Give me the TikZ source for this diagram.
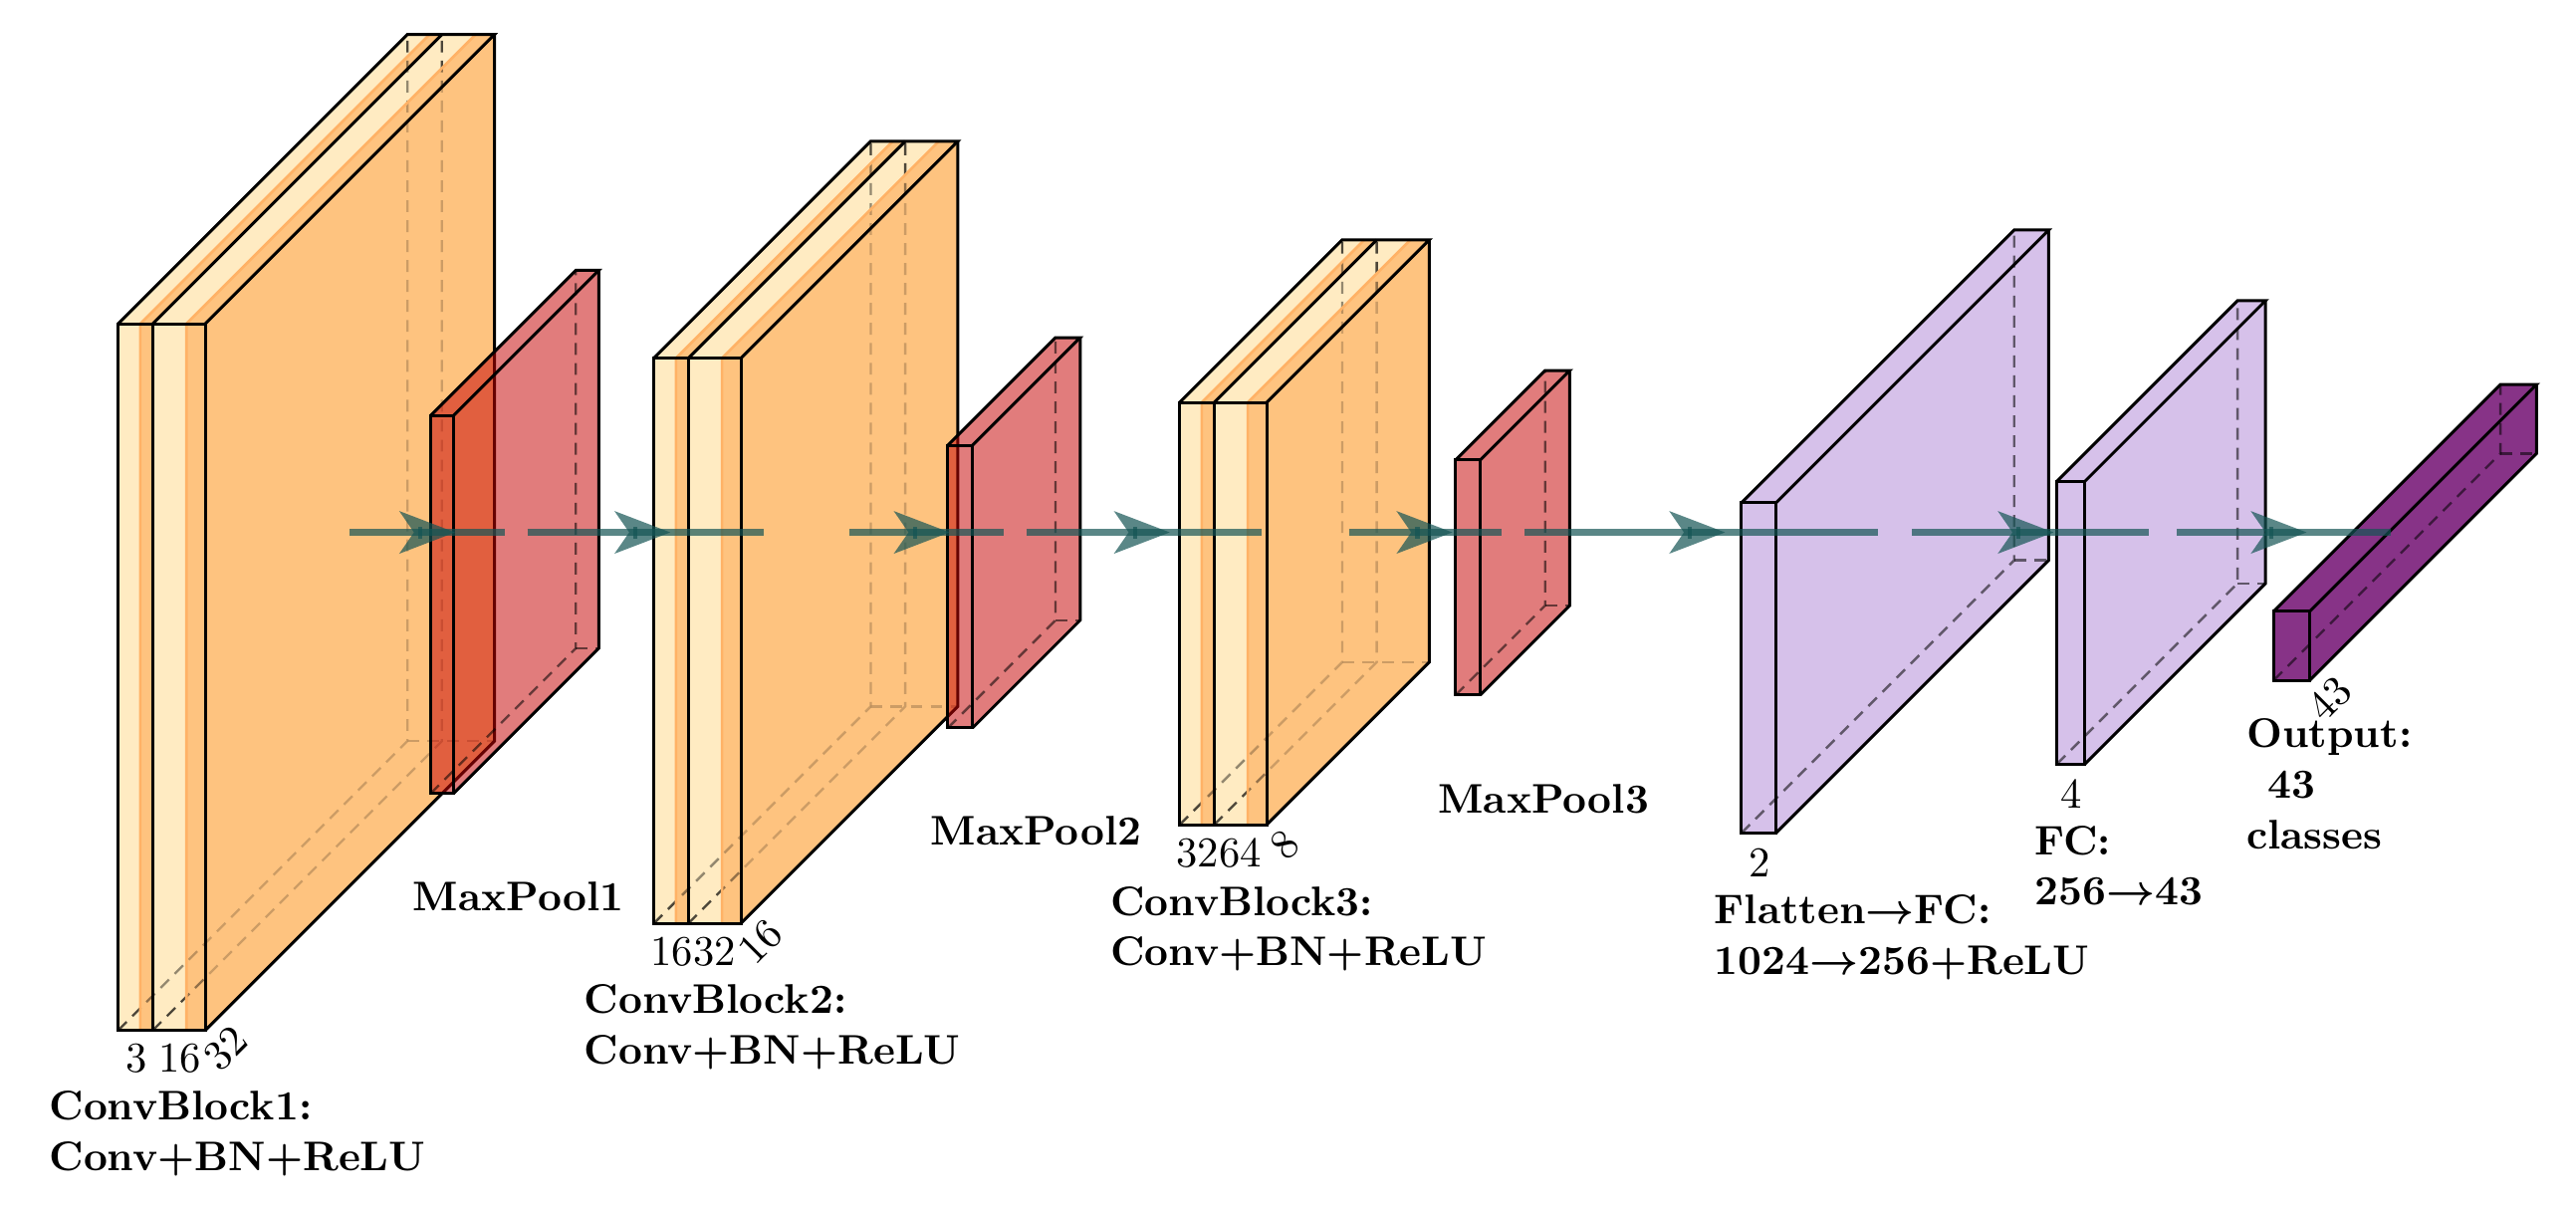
\documentclass[tikz,border=0pt]{standalone}
\usepackage{amsmath}
\definecolor{cLight}{HTML}{FFEBC2}
\definecolor{cDark}{HTML}{FEC37F}
\definecolor{cBand}{HTML}{FFB266}
\definecolor{poolc}{RGB}{199,5,5}
\definecolor{fcc}{RGB}{153,102,204}
\definecolor{outc}{RGB}{106,0,106}
\definecolor{edgec}{rgb}{0.083,0.333,0.333}
\tikzset{
  solidedge/.style={draw=black,line width=0.7pt,line join=miter},
  hidden/.style={draw=black,line width=0.55pt,dash pattern=on 2.8pt off 1.9pt},
  bandedge/.style={draw=cBand,line width=0.6pt},
  connection/.style={draw=edgec,line width=1.6pt,opacity=0.7},
  headtip/.style={fill=edgec,opacity=0.7},
  dimlabel/.style={font=\fontsize{10}{12}\selectfont,inner sep=0pt,text=black},
  caption/.style={font=\fontsize{9.75}{11.9}\selectfont\bfseries,inner sep=0pt,anchor=north west,align=left,text=black},
}
% a face seen from the front plus its slanted top: xa xb top bot d colour opacity
\newcommand{\slab}[7]{%
  \fill[#6,opacity=#7] (#1,#4) -- (#1,#3) -- (#1+#5,#3-#5) -- (#2+#5,#3-#5) -- (#2,#3) -- (#2,#4) -- cycle;
}
% x0 x1 x2 top bot d
\newcommand{\convblock}[6]{%
  \pgfmathsetmacro{\bA}{#1+0.64*(#2-#1)}%
  \pgfmathsetmacro{\bB}{#2+0.64*(#3-#2)}%
  \slab{#1}{\bA}{#4}{#5}{#6}{cLight}{1}
  \slab{\bA}{#2}{#4}{#5}{#6}{cDark}{1}
  \slab{#2}{\bB}{#4}{#5}{#6}{cLight}{1}
  \slab{\bB}{#3}{#4}{#5}{#6}{cDark}{1}
  \fill[cDark] (#3,#4) -- (#3+#6,#4-#6) -- (#3+#6,#5-#6) -- (#3,#5) -- cycle;
  % hidden edges of the first slice, then the layers in front of them
  \draw[hidden,draw opacity=0.7] (#1,#5) -- (#1+#6,#5-#6) -- (#1+#6,#4-#6);
  \slab{\bA}{#2}{#4}{#5}{#6}{cDark}{0.4}
  \slab{#2}{\bB}{#4}{#5}{#6}{cLight}{0.4}
  \slab{\bB}{#3}{#4}{#5}{#6}{cDark}{0.4}
  % hidden edges of the second slice
  \draw[hidden,draw opacity=0.7] (#2,#5) -- (#2+#6,#5-#6) -- (#2+#6,#4-#6);
  \draw[hidden,draw opacity=0.7] (#1+#6,#5-#6) -- (#3+#6,#5-#6);
  \slab{\bB}{#3}{#4}{#5}{#6}{cDark}{0.4}
  \fill[cDark,opacity=0.72] (#3,#4) -- (#3+#6,#4-#6) -- (#3+#6,#5-#6) -- (#3,#5) -- cycle;
  \draw[bandedge] (\bA,#5) -- (\bA,#4) -- (\bA+#6,#4-#6);
  \draw[bandedge] (\bB,#5) -- (\bB,#4) -- (\bB+#6,#4-#6);
  \draw[solidedge] (#1,#5) rectangle (#2,#4);
  \draw[solidedge] (#2,#5) rectangle (#3,#4);
  \draw[solidedge] (#1,#4) -- (#1+#6,#4-#6) -- (#3+#6,#4-#6) -- (#3,#4);
  \draw[solidedge] (#2,#4) -- (#2+#6,#4-#6);
  \draw[solidedge] (#3+#6,#4-#6) -- (#3+#6,#5-#6) -- (#3,#5);
}
% x0 x1 top bot d colour alpha
\newcommand{\plainbox}[7]{%
  \fill[#6,fill opacity=#7] (#1,#4) -- (#1,#3) -- (#1+#5,#3-#5) -- (#2+#5,#3-#5) -- (#2+#5,#4-#5) -- (#2,#4) -- cycle;
  \draw[hidden,draw opacity=0.55] (#1,#4) -- (#1+#5,#4-#5) -- (#1+#5,#3-#5);
  \draw[hidden,draw opacity=0.55] (#1+#5,#4-#5) -- (#2+#5,#4-#5);
  \draw[solidedge] (#1,#4) rectangle (#2,#3);
  \draw[solidedge] (#1,#3) -- (#1+#5,#3-#5) -- (#2+#5,#3-#5) -- (#2,#3);
  \draw[solidedge] (#2+#5,#3-#5) -- (#2+#5,#4-#5) -- (#2,#4);
}
% id x0 x1 tipx
\newcommand{\conn}[4]{%
  \coordinate (s#1) at (#2,324);
  \coordinate (t#1) at (#3,324);
  \coordinate (h#1) at (#4,324);
  \draw[connection] (s#1) -- (t#1);
  \fill[headtip,shift={(h#1)}] (0,0) -- (-34,-13) -- (-25,0) -- (-34,13) -- cycle;
  \fill[headtip,shift={(h#1)}] (-22.5,-3.6) rectangle (-20,3.6);
}
\begin{document}
\begin{tikzpicture}[x=0.387pt,y=-0.387pt]
\useasboundingbox (0,0) rectangle (1568,737.6);
\fill[white] (0,0) rectangle (1568,737.6);

\convblock{72}{93}{125}{197}{627}{176}
\plainbox{262}{276}{253}{483}{88.5}{poolc}{0.52}
\convblock{398}{419}{451}{218}{562}{132}
\plainbox{577}{592}{271}{443}{65.5}{poolc}{0.52}
\convblock{718}{739}{771}{245}{502}{99}
\plainbox{886}{901}{280}{423}{54.5}{poolc}{0.52}
\plainbox{1060}{1081}{306}{507}{166}{fcc}{0.4}
\plainbox{1252}{1269}{293}{465}{110}{fcc}{0.4}
\plainbox{1384}{1406}{372}{414}{138}{outc}{0.8}

\conn{1}{213}{307}{277}
\conn{2}{321}{465}{408}
\conn{3}{517}{611}{578}
\conn{4}{625}{768}{712}
\conn{5}{821}{914}{884}
\conn{6}{928}{1143}{1050}
\conn{7}{1164}{1308}{1250}
\conn{8}{1325}{1455}{1404}

\node[dimlabel] (d1a) at (83,644) {3};
\node[dimlabel] (d1b) at (109.5,644) {16};
\node[dimlabel,rotate=45] (d1c) at (137.5,638) {32};
\node[dimlabel] (d2a) at (409,579) {16};
\node[dimlabel] (d2b) at (435,579) {32};
\node[dimlabel,rotate=45] (d2c) at (463,573) {16};
\node[dimlabel] (d3a) at (729,519) {32};
\node[dimlabel] (d3b) at (755,519) {64};
\node[dimlabel,rotate=45] (d3c) at (782,514) {8};
\node[dimlabel] (d4) at (1071,525) {2};
\node[dimlabel] (d5) at (1261,483) {4};
\node[dimlabel,rotate=45] (d6) at (1418,425) {43};

\node[caption] (c1) at (29.5,663.5) {ConvBlock1:\\Conv+BN+ReLU};
\node[caption] (p1) at (251,536.5) {MaxPool1};
\node[caption] (c2) at (355,598.5) {ConvBlock2:\\Conv+BN+ReLU};
\node[caption] (p2) at (566,496) {MaxPool2};
\node[caption] (c3) at (675.5,539) {ConvBlock3:\\Conv+BN+ReLU};
\node[caption] (p3) at (875,477) {MaxPool3};
\node[caption] (c4) at (1043,544) {Flatten{\boldmath$\rightarrow$}FC:\\1024{\boldmath$\rightarrow$}256+ReLU};
\node[caption] (c5) at (1238,502) {FC:\\256{\boldmath$\rightarrow$}43};
\node[caption] (c6) at (1367,437) {Output:\\\hspace*{5pt}43\\classes};
\end{tikzpicture}
\end{document}
